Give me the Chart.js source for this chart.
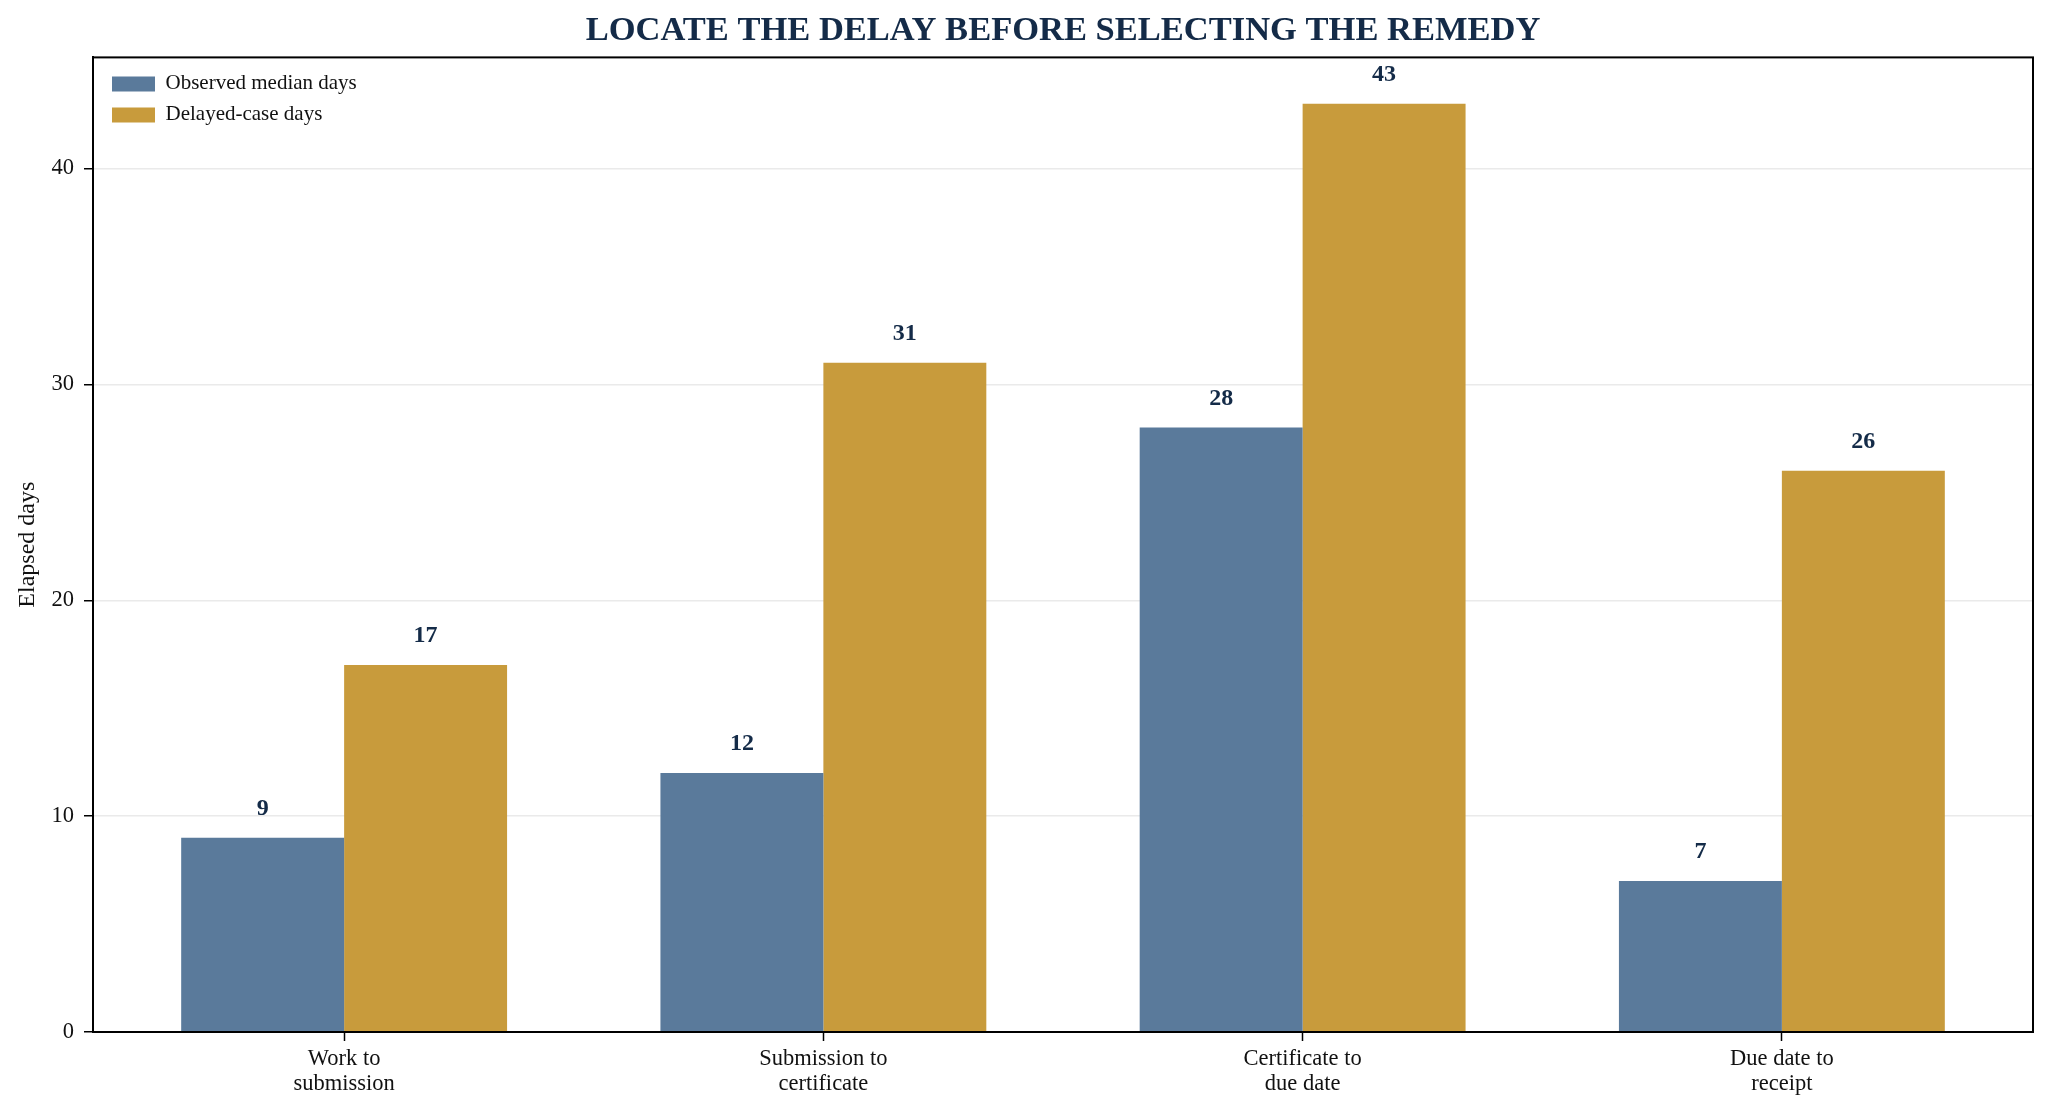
<!DOCTYPE html>
<html>
<head>
<meta charset="utf-8">
<script src="https://cdn.jsdelivr.net/npm/chart.js@4.4.1/dist/chart.umd.min.js"></script>
<style>
  html, body { margin: 0; padding: 0; background: #ffffff; }
  #wrap { width: 2052px; height: 1116px; }
</style>
</head>
<body>
<div id="wrap"><canvas id="c" width="2052" height="1116"></canvas></div>
<script>
const chartTitle = 'LOCATE THE DELAY BEFORE SELECTING THE REMEDY';
const categories = [
  ['Work to', 'submission'],
  ['Submission to', 'certificate'],
  ['Certificate to', 'due date'],
  ['Due date to', 'receipt']
];
const seriesNames = ['Observed median days', 'Delayed-case days'];
const observedDays = [9, 12, 28, 7];
const delayedDays = [17, 31, 43, 26];
const yTickValues = [0, 10, 20, 30, 40];
const yAxisTitle = 'Elapsed days';

const FONT = "'Liberation Serif', 'Times New Roman', serif";
const BLUE = '#5a7a9b';
const GOLD = '#c89b3c';
const NAVY = '#142b48';

const framePlugin = {
  id: 'frame',
  afterLayout(chart) {
    const lg = chart.legend;
    const ca = chart.chartArea;
    if (lg) {
      const w = lg.width;
      lg.left = ca.left + 9;
      lg.top = ca.top + 6;
      lg.right = lg.left + w;
      lg.bottom = ca.bottom;
      lg.height = lg.bottom - lg.top;
    }
  },
  afterDraw(chart) {
    const {ctx, chartArea: a} = chart;
    ctx.save();
    // value labels
    ctx.fillStyle = NAVY;
    ctx.font = "bold 24px " + FONT;
    ctx.textAlign = 'center';
    ctx.textBaseline = 'alphabetic';
    chart.data.datasets.forEach((ds, di) => {
      const meta = chart.getDatasetMeta(di);
      meta.data.forEach((el, i) => {
        const v = ds.data[i].y;
        ctx.fillText(String(v), el.x, el.y - 23);
      });
    });
    // frame
    ctx.strokeStyle = '#000000';
    ctx.lineWidth = 2;
    ctx.strokeRect(a.left, a.top, a.right - a.left, a.bottom - a.top);
    ctx.restore();
  }
};

new Chart(document.getElementById('c'), {
  type: 'bar',
  data: {
    datasets: [
      {
        label: seriesNames[0],
        data: observedDays.map((v, i) => ({x: i, y: v})),
        backgroundColor: BLUE,
        borderWidth: 0,
        categoryPercentage: 0.68,
        barPercentage: 1.0
      },
      {
        label: seriesNames[1],
        data: delayedDays.map((v, i) => ({x: i, y: v})),
        backgroundColor: GOLD,
        borderWidth: 0,
        categoryPercentage: 0.68,
        barPercentage: 1.0
      }
    ]
  },
  options: {
    responsive: false,
    devicePixelRatio: 1,
    animation: false,
    layout: { padding: { left: 0, right: 19, top: 0, bottom: 0 } },
    plugins: {
      title: {
        display: true,
        text: chartTitle,
        fullSize: false,
        color: NAVY,
        font: { family: FONT, size: 34.5, weight: 'bold' },
        padding: { top: 10, bottom: 6 }
      },
      legend: {
        display: true,
        position: 'chartArea',
        align: 'start',
        labels: {
          boxWidth: 43,
          boxHeight: 15,
          padding: 10,
          color: '#111111',
          font: { family: FONT, size: 21 }
        }
      },
      tooltip: { enabled: false }
    },
    scales: {
      x: {
        type: 'linear',
        min: -0.524,
        max: 3.524,
        offset: false,
        z: 1,
        afterBuildTicks(scale) {
          scale.ticks = categories.map((c, i) => ({value: i}));
        },
        afterFit(scale) { scale.height = 84; },
        grid: {
          offset: false,
          drawOnChartArea: false,
          drawTicks: true,
          tickLength: 9,
          tickColor: '#000000',
          tickWidth: 1.5
        },
        border: { display: true, color: '#000000', width: 2 },
        ticks: {
          autoSkip: false,
          maxRotation: 0,
          includeBounds: false,
          padding: 6,
          color: '#111111',
          font: { family: FONT, size: 22.5, lineHeight: 1.1 },
          callback: (value, index) => categories[index]
        }
      },
      y: {
        type: 'linear',
        min: 0,
        max: 45.15,
        z: 1,
        afterBuildTicks(scale) {
          scale.ticks = yTickValues.map(v => ({value: v}));
        },
        afterFit(scale) { scale.width = 93; },
        grid: {
          color: 'rgba(190,190,190,0.32)',
          lineWidth: 1.5,
          drawTicks: true,
          tickLength: 9,
          tickColor: '#000000',
          tickWidth: 1.5
        },
        border: { display: true, color: '#000000', width: 2 },
        ticks: {
          padding: 10,
          color: '#111111',
          font: { family: FONT, size: 22.5 }
        },
        title: {
          display: true,
          text: yAxisTitle,
          color: '#111111',
          font: { family: FONT, size: 24 },
          padding: { top: 13, bottom: 0 }
        }
      }
    }
  },
  plugins: [framePlugin]
});
</script>
</body>
</html>
